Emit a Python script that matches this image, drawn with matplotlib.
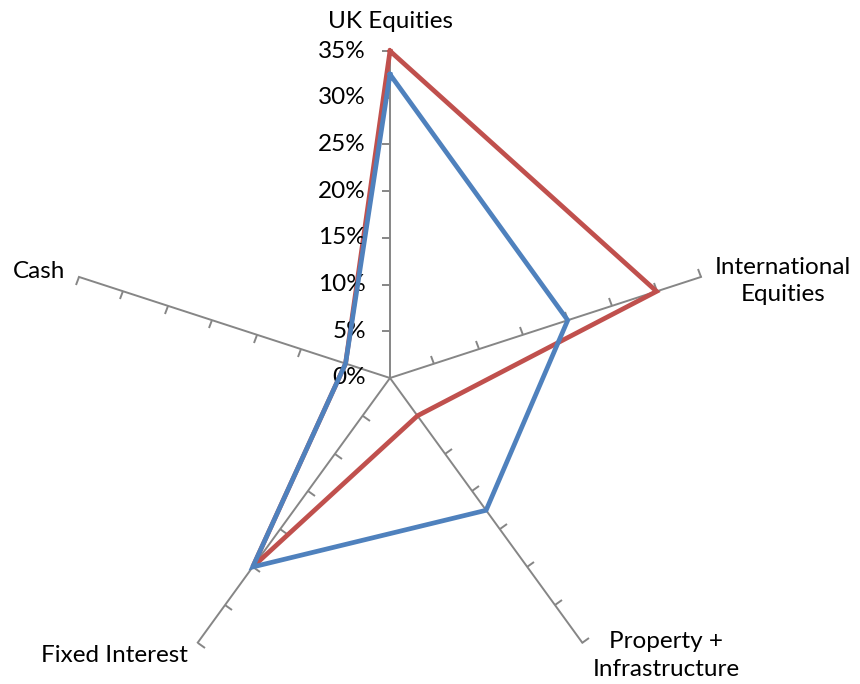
import numpy as np
import matplotlib.pyplot as plt
from matplotlib.markers import MarkerStyle

categories = ['UK Equities', 'International\nEquities', 'Property +\nInfrastructure',
              'Fixed Interest', 'Cash']
red_vals = [35, 30, 5, 25, 5]
blue_vals = [32.5, 20, 17.5, 25, 5]
tick_vals = [0, 5, 10, 15, 20, 25, 30, 35]
tick_labels = ['0%', '5%', '10%', '15%', '20%', '25%', '30%', '35%']

plt.rcParams['font.family'] = ['Lato', 'DejaVu Sans']

fig = plt.figure(figsize=(8.6, 6.84), dpi=100)
ax = fig.add_axes([63 / 860, -21 / 684, 654 / 860, 654 / 684], projection='polar')
ax.set_theta_offset(np.pi / 2)
ax.set_theta_direction(-1)
ax.set_ylim(0, 35)
ax.grid(False)
ax.spines['polar'].set_visible(False)
ax.set_xticks([])
ax.set_yticks([])
ax.patch.set_alpha(0)

n = len(categories)
theta = np.arange(n) * 2 * np.pi / n
grey = '#868686'
fs = 17.5

# spokes with small ticks on one side
for i, t in enumerate(theta):
    ax.plot([t, t], [0, 35], color=grey, lw=1.4, zorder=1, clip_on=False)
    math_deg = 90 - 72 * i
    mk = MarkerStyle(2).rotated(deg=math_deg)  # TICKUP
    ax.plot([t] * 7, tick_vals[1:], linestyle='none', marker=mk,
            markersize=6, markeredgewidth=1.4, color=grey, clip_on=False, zorder=1)

# close the polygons
th = np.append(theta, theta[0])
ax.plot(th, red_vals + red_vals[:1], color='#C0504D', lw=3.4, zorder=3,
        clip_on=False, solid_joinstyle='miter')
ax.plot(th, blue_vals + blue_vals[:1], color='#4F81BD', lw=3.4, zorder=4,
        clip_on=False, solid_joinstyle='miter')

# value labels along the top axis
for v, lab in zip(tick_vals, tick_labels):
    ax.annotate(lab, (0, v), xytext=(-24, 0), textcoords='offset pixels',
                ha='right', va='center', fontsize=fs, color='black')

# category labels
offsets = [((0, 30), 'center', 'center'),
           ((14, -4), 'left', 'center'),
           ((84, -13), 'center', 'center'),
           ((-10, -13), 'right', 'center'),
           ((-14, 5), 'right', 'center')]
for t, name, (off, ha, va) in zip(theta, categories, offsets):
    ax.annotate(name, (t, 35), xytext=off, textcoords='offset pixels',
                ha=ha, va=va, fontsize=fs, color='black', linespacing=1.4,
                multialignment='center')

fig.savefig('out.png', dpi=100)
